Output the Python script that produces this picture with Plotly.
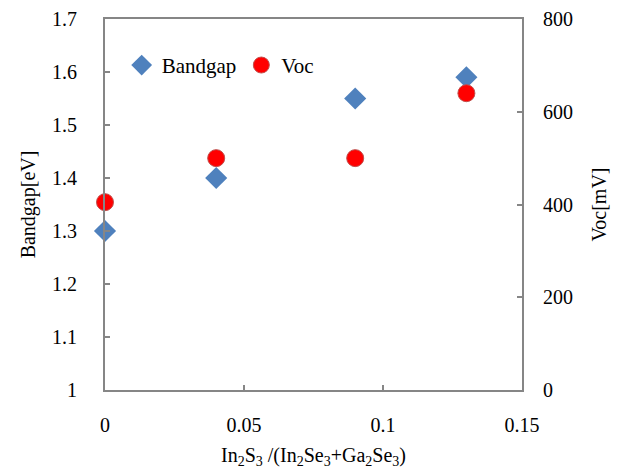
import plotly.graph_objects as go

x_ratio = [0, 0.04, 0.09, 0.13]
bandgap = [1.30, 1.40, 1.55, 1.59]
voc = [405, 500, 500, 640]

x_ticks = [0, 0.05, 0.1, 0.15]
x_ticklabels = ["0", "0.05", "0.1", "0.15"]
y_ticks = [1, 1.1, 1.2, 1.3, 1.4, 1.5, 1.6, 1.7]
y_ticklabels = ["1", "1.1", "1.2", "1.3", "1.4", "1.5", "1.6", "1.7"]
y2_ticks = [0, 200, 400, 600, 800]
y2_ticklabels = ["0", "200", "400", "600", "800"]

FONT = "Liberation Serif"
AX = "#868686"
TF = dict(family=FONT, size=20, color="black")


def serif(labels):
    return ["<span style='font-family:Liberation Serif'>%s</span>" % s for s in labels]


fig = go.Figure()
fig.add_trace(go.Scatter(
    x=x_ratio, y=bandgap, mode="markers", name="Bandgap",
    marker=dict(symbol="diamond", size=17, color="#4F81BD"),
    yaxis="y", cliponaxis=False,
))
fig.add_trace(go.Scatter(
    x=x_ratio, y=voc, mode="markers", name="Voc",
    marker=dict(symbol="circle", size=17, color="#FF0000",
                line=dict(color="#C0504D", width=1)),
    yaxis="y2", cliponaxis=False,
))

fig.update_layout(
    width=623, height=469,
    margin=dict(l=105, r=101, t=19, b=79),
    paper_bgcolor="white", plot_bgcolor="white",
    font=dict(family=FONT, size=20, color="black"),
    showlegend=True,
    legend=dict(orientation="h", x=0.04, y=0.875, xanchor="left", yanchor="middle",
                bgcolor="rgba(0,0,0,0)", font=dict(size=21, family=FONT),
                itemwidth=30, tracegroupgap=0),
    xaxis=dict(range=[0, 0.15], tickvals=x_ticks, ticktext=serif(x_ticklabels),
               showline=True, linecolor=AX, linewidth=2, mirror=True,
               ticks="inside", ticklen=5, tickcolor=AX, tickwidth=1.5,
               showgrid=False, zeroline=False, tickfont=TF, automargin=False,
               title=dict(text="In<sub>2</sub>S<sub>3</sub> /(In<sub>2</sub>Se<sub>3</sub>+Ga<sub>2</sub>Se<sub>3</sub>)",
                          font=dict(size=20, family=FONT), standoff=22),
               ticklabelstandoff=16),
    yaxis=dict(range=[1, 1.7], tickvals=y_ticks, ticktext=serif(y_ticklabels),
               showline=True, linecolor=AX, linewidth=2,
               ticks="inside", ticklen=5, tickcolor=AX, tickwidth=1.5,
               showgrid=False, zeroline=False, tickfont=TF, automargin=False,
               title=dict(text="Bandgap[eV]", font=dict(size=20, family=FONT), standoff=11),
               ticklabelstandoff=22),
    yaxis2=dict(range=[0, 800], tickvals=y2_ticks, ticktext=serif(y2_ticklabels),
                overlaying="y", side="right",
                showline=True, linecolor=AX, linewidth=2,
                ticks="inside", ticklen=5, tickcolor=AX, tickwidth=1.5,
                showgrid=False, zeroline=False, tickfont=TF, automargin=False,
                title=dict(text="Voc[mV]", font=dict(size=20, family=FONT), standoff=20),
                ticklabelstandoff=15),
)

fig.write_html("out.html")
